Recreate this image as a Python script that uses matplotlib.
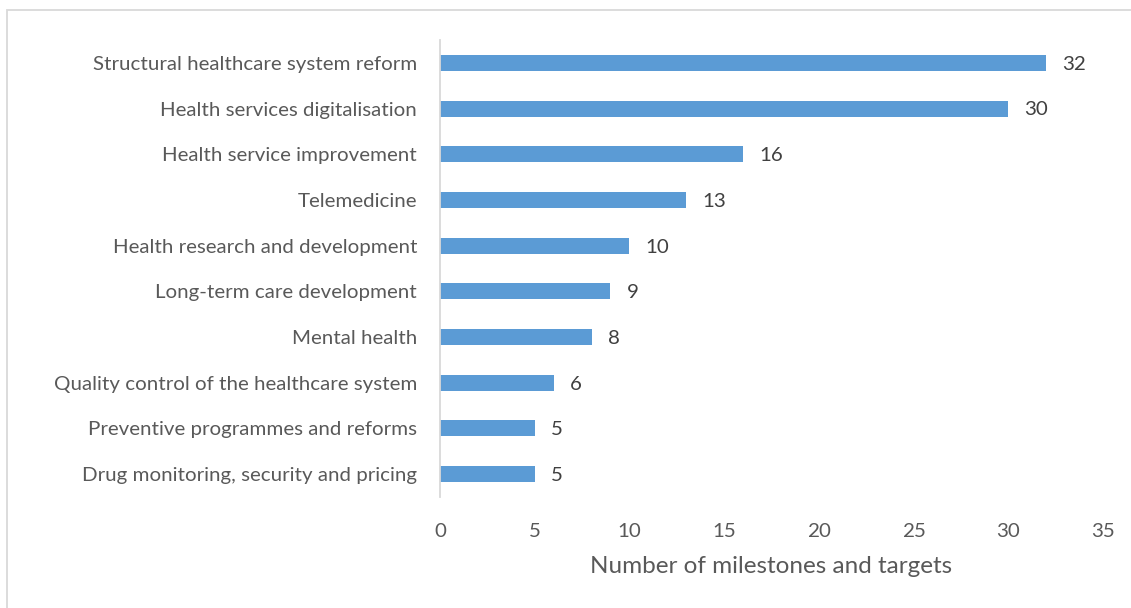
import matplotlib
matplotlib.use("Agg")
import matplotlib.pyplot as plt
from matplotlib.patches import Rectangle

categories = [
    "Structural healthcare system reform",
    "Health services digitalisation",
    "Health service improvement",
    "Telemedicine",
    "Health research and development",
    "Long-term care development",
    "Mental health",
    "Quality control of the healthcare system",
    "Preventive programmes and reforms",
    "Drug monitoring, security and pricing",
]
values = [32, 30, 16, 13, 10, 9, 8, 6, 5, 5]
x_ticks = [0, 5, 10, 15, 20, 25, 30, 35]
x_label = "Number of milestones and targets"

text_color = "#595959"
bar_color = "#5B9BD5"
plt.rcParams["font.family"] = ["Lato", "DejaVu Sans"]

fig = plt.figure(figsize=(11.31, 6.08), dpi=100)
ax = fig.add_axes([440 / 1131, 1 - 497 / 608, (1103 - 440) / 1131, (497 - 40) / 608])

# light frame around the chart area
fig.patches.append(Rectangle((7 / 1131, -0.05), 1.2, 1 - 10 / 608 + 0.05,
                             transform=fig.transFigure, fill=False,
                             edgecolor="#D9D9D9", linewidth=1.3))

ypos = list(range(len(categories)))
bars = ax.barh(ypos, values, height=0.35, color=bar_color)
for y, v in zip(ypos, values):
    ax.text(v + 0.85, y + 0.03, str(v), va="center", ha="left",
            fontsize=14.75, color="#404040")

ax.set_yticks(ypos)
ax.set_yticklabels(categories, fontsize=14.75, color=text_color)
ax.set_ylim(len(categories) - 0.5, -0.5)
ax.set_xlim(0, 35)
ax.set_xticks(x_ticks)
ax.set_xticklabels([str(t) for t in x_ticks], fontsize=14.75, color=text_color)
ax.set_xlabel(x_label, fontsize=17.5, color=text_color, labelpad=11)

ax.tick_params(axis="both", length=0)
ax.tick_params(axis="y", pad=16.5)
ax.tick_params(axis="x", pad=19)
for s in ["top", "right", "bottom"]:
    ax.spines[s].set_visible(False)
ax.spines["left"].set_color("#D9D9D9")
ax.spines["left"].set_linewidth(1.3)

fig.savefig("out.png", dpi=100)
